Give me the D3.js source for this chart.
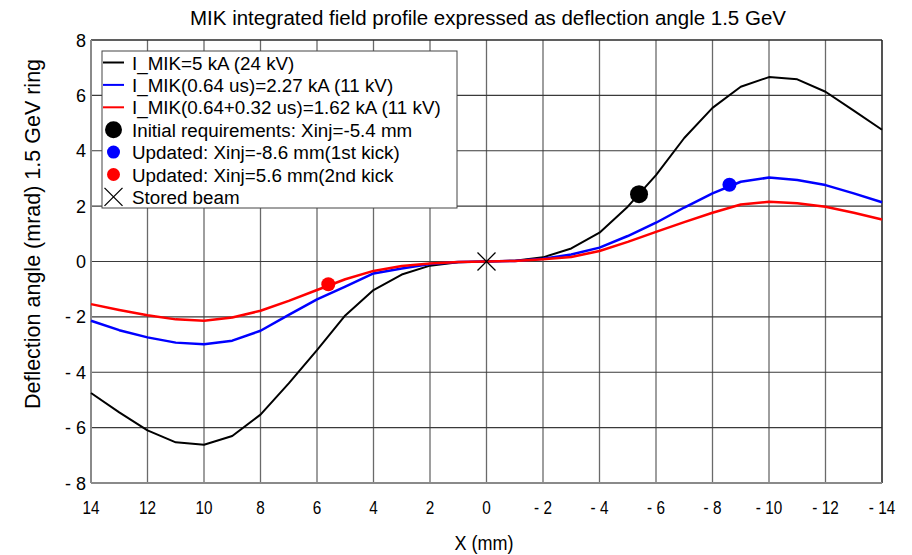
<!DOCTYPE html>
<html><head><meta charset="utf-8">
<script src="https://cdn.jsdelivr.net/npm/d3@7"></script>
<style>body{margin:0;background:#fff}svg{display:block;font-family:"Liberation Sans",Arial,sans-serif}</style>
</head><body><svg id="c" width="912" height="555"></svg>
<script>
const xValues = [14,13,12,11,10,9,8,7,6,5,4,3,2,1,0,-1,-2,-3,-4,-5,-6,-7,-8,-9,-10,-11,-12,-13,-14];
const black5kA = [-4.75,-5.45,-6.1,-6.53,-6.62,-6.3,-5.53,-4.4,-3.2,-1.95,-1.03,-0.47,-0.15,-0.03,0,0.03,0.15,0.47,1.04,1.98,3.12,4.46,5.55,6.31,6.66,6.58,6.13,5.45,4.76];
const blue227kA = [-2.14,-2.48,-2.74,-2.93,-2.99,-2.86,-2.5,-1.93,-1.37,-0.91,-0.43,-0.25,-0.09,-0.02,0,0.02,0.1,0.25,0.5,0.92,1.4,1.95,2.46,2.88,3.03,2.94,2.76,2.46,2.14];
const red162kA = [-1.54,-1.75,-1.94,-2.09,-2.14,-2.02,-1.78,-1.42,-1.03,-0.64,-0.34,-0.16,-0.07,-0.02,0,0.02,0.08,0.16,0.38,0.71,1.07,1.42,1.76,2.06,2.16,2.1,1.98,1.76,1.52];
const markerX = [-5.4, -8.6, 5.6];
const markerY = [2.43, 2.77, -0.82];
const storedBeam = [0, 0];
const xTicks = [14,12,10,8,6,4,2,0,-2,-4,-6,-8,-10,-12,-14];
const yTicks = [-8,-6,-4,-2,0,2,4,6,8];
const legendLabels = ["I_MIK=5 kA (24 kV)","I_MIK(0.64 us)=2.27 kA (11 kV)","I_MIK(0.64+0.32 us)=1.62 kA (11 kV)","Initial requirements: Xinj=-5.4 mm","Updated: Xinj=-8.6 mm(1st kick)","Updated: Xinj=5.6 mm(2nd kick","Stored beam"];
const colors = ["#000000","#0000ff","#ff0000"];

const svg = d3.select("#c");
const L=91,R=882,T=40,B=483;
const x = d3.scaleLinear().domain([14,-14]).range([L,R]);
const y = d3.scaleLinear().domain([-8,8]).range([B,T]);

// grid
const g = svg.append("g");
g.selectAll(".vg").data(xTicks).join("line").attr("x1",d=>x(d)).attr("x2",d=>x(d)).attr("y1",T).attr("y2",B).attr("stroke","#6a6a6a").attr("stroke-width",1.3);
g.selectAll(".hg").data(yTicks).join("line").attr("y1",d=>y(d)).attr("y2",d=>y(d)).attr("x1",L).attr("x2",R).attr("stroke","#3a3a3a").attr("stroke-width",1.2);
// frame
svg.append("line").attr("x1",L).attr("x2",R).attr("y1",T).attr("y2",T).attr("stroke","#222").attr("stroke-width",1.2);
svg.append("line").attr("x1",R).attr("x2",R).attr("y1",T).attr("y2",B).attr("stroke","#222").attr("stroke-width",1.2);
svg.append("line").attr("x1",L).attr("x2",L).attr("y1",T).attr("y2",B).attr("stroke","#8a8a8a").attr("stroke-width",2);
svg.append("line").attr("x1",L).attr("x2",R).attr("y1",B).attr("y2",B).attr("stroke","#8a8a8a").attr("stroke-width",2);

// axes labels
svg.append("g").selectAll("text").data(xTicks).join("text")
  .attr("x",d=>x(d)).attr("y",B+31).attr("text-anchor","middle").attr("font-size",18)
  .attr("transform",d=>`translate(${x(d)},0) scale(0.85,1) translate(${-x(d)},0)`)
  .text(d=>d<0?"- "+(-d):d);
svg.append("g").selectAll("text").data(yTicks).join("text")
  .attr("x",86).attr("y",d=>y(d)+6.5).attr("text-anchor","end").attr("font-size",18)
  .text(d=>d<0?"- "+(-d):d);

// lines
const series=[black5kA,blue227kA,red162kA];
const line = d3.line().x((d,i)=>x(xValues[i])).y(d=>y(d));
series.forEach((s,k)=>{
  svg.append("path").datum(s).attr("d",line).attr("fill","none").attr("stroke",colors[k]).attr("stroke-width",k===0?2:2.5).attr("stroke-linejoin","round");
});
// markers
const mr=[9,7,7];
markerX.forEach((mx,i)=>{
  svg.append("circle").attr("cx",x(mx)).attr("cy",y(markerY[i])).attr("r",mr[i]).attr("fill",colors[i]);
});
const sx=x(storedBeam[0]), sy=y(storedBeam[1]);
svg.append("path").attr("d",`M${sx-9},${sy-9}L${sx+9},${sy+9}M${sx-9},${sy+9}L${sx+9},${sy-9}`).attr("stroke","#000").attr("stroke-width",1.3);

// legend
const lg=svg.append("g");
lg.append("rect").attr("x",102).attr("y",51).attr("width",355).attr("height",157).attr("fill","#fff").attr("stroke","#444").attr("stroke-width",1);
const rowY=d3.range(7).map(i=>62.5+i*22.4);
[0,1,2].forEach(i=>lg.append("line").attr("x1",103).attr("x2",124).attr("y1",rowY[i]).attr("y2",rowY[i]).attr("stroke",colors[i]).attr("stroke-width",2));
[3,4,5].forEach((r,i)=>lg.append("circle").attr("cx",113.5).attr("cy",rowY[r]).attr("r",i===0?8.5:6.5).attr("fill",colors[i]));
{const cx=113.5, cy=rowY[6];
 lg.append("path").attr("d",`M${cx-9},${cy-9}L${cx+9},${cy+9}M${cx-9},${cy+9}L${cx+9},${cy-9}`).attr("stroke","#000").attr("stroke-width",1.3);}
lg.selectAll("text").data(legendLabels).join("text").attr("x",132).attr("y",(d,i)=>rowY[i]+7).attr("font-size",18.8).text(d=>d);

// titles
svg.append("text").attr("x",488).attr("y",25).attr("text-anchor","middle").attr("font-size",20.5)
  .text("MIK integrated field profile expressed as deflection angle 1.5 GeV");
svg.append("text").attr("x",484).attr("y",550).attr("text-anchor","middle").attr("font-size",20)
  .attr("transform","translate(484,0) scale(0.9,1) translate(-484,0)").text("X (mm)");
svg.append("text").attr("transform","translate(40,234) rotate(-90)").attr("text-anchor","middle").attr("font-size",21.5).text("Deflection angle (mrad) 1.5 GeV ring");
</script></body></html>
